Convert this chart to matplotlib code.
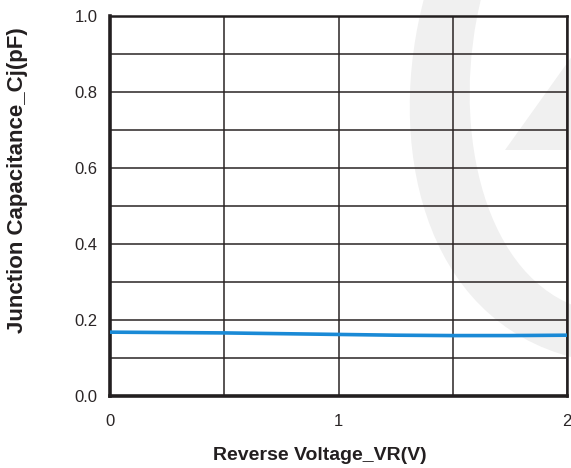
import numpy as np
import matplotlib.pyplot as plt
from matplotlib.path import Path
from matplotlib.patches import PathPatch, Polygon

plt.rcParams["font.family"] = ["Liberation Sans", "DejaVu Sans"]

# curve
voltage = [0.0, 0.25, 0.5, 0.75, 1.0, 1.25, 1.5, 1.75, 2.0]
capacitance = [0.168, 0.167, 0.166, 0.164, 0.162, 0.160, 0.159, 0.159, 0.160]

x_ticks = [0, 1, 2]
y_ticks = [0.0, 0.2, 0.4, 0.6, 0.8, 1.0]

W, H = 571, 468
fig = plt.figure(figsize=(W / 100, H / 100), dpi=100)

# faint logo watermark behind the plot (pixel coords, y down)
wm = fig.add_axes([0, 0, 1, 1], zorder=0)
wm.set_xlim(0, W)
wm.set_ylim(H, 0)
wm.axis("off")
band = Path(
    [(425, -5), (385, 140), (420, 320), (575, 358),
     (575, 306), (480, 270), (450, 120), (482, -5), (425, -5)],
    [Path.MOVETO, Path.CURVE4, Path.CURVE4, Path.CURVE4,
     Path.LINETO, Path.CURVE4, Path.CURVE4, Path.CURVE4, Path.CLOSEPOLY],
)
wm.add_patch(PathPatch(band, facecolor="#f0f0f0", edgecolor="none"))
wm.add_patch(Polygon([[575, 52], [505, 150], [575, 150]], closed=True,
                     facecolor="#f0f0f0", edgecolor="none"))

ax = fig.add_axes([110 / W, 1 - 396 / H, (567 - 110) / W, (396 - 16) / H], zorder=1)
ax.patch.set_alpha(0)

ax.plot(voltage, capacitance, color="#1a8ad6", lw=2.6, solid_capstyle="butt", zorder=3)

ax.set_xlim(0, 2)
ax.set_ylim(0, 1.0)
ax.set_xticks(x_ticks)
ax.set_xticklabels([str(v) for v in x_ticks])
ax.set_yticks(y_ticks)
ax.set_yticklabels([f"{v:.1f}" for v in y_ticks])
ax.set_xticks(np.arange(0, 2.01, 0.5), minor=True)
ax.set_yticks(np.arange(0, 1.01, 0.1), minor=True)
ax.grid(which="both", color="#2a2424", lw=1.1)
ax.set_axisbelow(True)
ax.tick_params(which="both", length=0)
ax.tick_params(axis="x", pad=13, labelsize=12, colors="#2a2526")
ax.tick_params(axis="y", pad=9, labelsize=12, colors="#2a2526")

for side in ["left", "bottom"]:
    ax.spines[side].set_linewidth(2.6)
for side in ["top", "right"]:
    ax.spines[side].set_linewidth(1.8)
for sp in ax.spines.values():
    sp.set_color("#231f20")

fig.text(320 / W, 1 - 455 / H, "Reverse Voltage_VR(V)", fontsize=14, fontweight="bold",
         ha="center", va="center", color="#231f20")
fig.text(18 / W, 1 - 180 / H, "Junction Capacitance_Cj(pF)", fontsize=16, fontweight="bold",
         ha="center", va="center", rotation=90, color="#231f20")

fig.savefig("out.png", dpi=100)
